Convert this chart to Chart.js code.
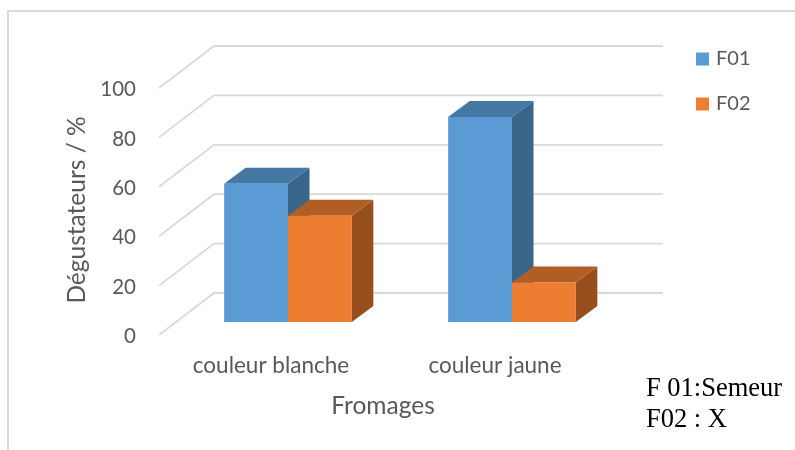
<!DOCTYPE html>
<html>
<head>
<meta charset="utf-8">
<title>Fromages</title>
<script src="https://cdn.jsdelivr.net/npm/chart.js@4"></script>
<style>
  html, body { margin: 0; padding: 0; background: #fff; }
  #wrap { position: relative; width: 795px; height: 450px; overflow: hidden; }
  #frame { position: absolute; left: 7px; top: 10px; width: 800px; height: 460px; border: 2px solid #d9d9d9; box-sizing: border-box; }
  #chart { position: absolute; left: 0; top: 0; }
  #note { position: absolute; left: 646px; top: 372px; font: 26.5px/31px "Liberation Serif", serif; color: #000; white-space: nowrap; }
</style>
</head>
<body>
<div id="wrap">
  <div id="frame"></div>
  <canvas id="chart" width="795" height="450"></canvas>
  <div id="note">F 01:Semeur<br>F02 : X</div>
</div>
<script>
(function() {
  'use strict';

  var categories = ['couleur blanche', 'couleur jaune'];
  var f01Values = [56, 83];
  var f02Values = [43, 16];
  var tickValues = [0, 20, 40, 60, 80, 100];
  var yTitle = 'Dégustateurs / %';
  var xTitle = 'Fromages';

  var textColor = '#595959';
  var gridColor = '#d9d9d9';
  var fontName = 'Lato, sans-serif';
  var depth = { x: 21.5, y: 16 };
  var wall = { x: 38, y: 29, right: 663, sideX: 55, sideY: 42 };
  var faces = [
    { top: '#4577a3', side: '#396589' },
    { top: '#b15e24', side: '#964e1d' }
  ];

  function fillShape(ctx, color, pts) {
    ctx.fillStyle = color;
    ctx.beginPath();
    ctx.moveTo(pts[0][0], pts[0][1]);
    for (var i = 1; i < pts.length; i++) ctx.lineTo(pts[i][0], pts[i][1]);
    ctx.closePath();
    ctx.fill();
  }

  // back wall and left side lines of the 3d box
  var wallPlugin = {
    id: 'wall',
    beforeDatasetsDraw: function(chart) {
      var ctx = chart.ctx;
      var yScale = chart.scales.y;
      var backLeft = chart.chartArea.left + wall.x;
      ctx.save();
      ctx.strokeStyle = gridColor;
      ctx.lineWidth = 1.8;
      tickValues.forEach(function(v) {
        var y = yScale.getPixelForValue(v) - wall.y;
        ctx.beginPath();
        ctx.moveTo(backLeft - wall.sideX, y + wall.sideY);
        ctx.lineTo(backLeft, y);
        ctx.lineTo(wall.right, y);
        ctx.stroke();
      });
      ctx.restore();
    }
  };

  // top and side faces, the front face is the normal bar
  var depthPlugin = {
    id: 'depth',
    beforeDatasetsDraw: function(chart) {
      var ctx = chart.ctx;
      chart.data.datasets.forEach(function(ds, di) {
        chart.getDatasetMeta(di).data.forEach(function(bar) {
          var l = bar.x - bar.width / 2;
          var r = bar.x + bar.width / 2;
          fillShape(ctx, faces[di].side, [[r, bar.y], [r + depth.x, bar.y - depth.y], [r + depth.x, bar.base - depth.y], [r, bar.base]]);
          fillShape(ctx, faces[di].top, [[l, bar.y], [l + depth.x, bar.y - depth.y], [r + depth.x, bar.y - depth.y], [r, bar.y]]);
        });
      });
    }
  };

  var titlePlugin = {
    id: 'axisTitles',
    afterDraw: function(chart) {
      var ctx = chart.ctx;
      ctx.save();
      ctx.fillStyle = textColor;
      ctx.font = '24.5px ' + fontName;
      ctx.textAlign = 'center';
      ctx.textBaseline = 'middle';
      ctx.fillText(xTitle, 383, 406);
      ctx.translate(77, 210);
      ctx.rotate(-Math.PI / 2);
      ctx.fillText(yTitle, 0, 0);
      ctx.restore();
    }
  };

  var legendPlugin = {
    id: 'legendPlace',
    afterLayout: function(chart) {
      var legend = chart.legend;
      legend.left = 674;
      legend.right = 790;
      legend.top = 24;
      legend.bottom = 300;
    }
  };

  // small box plus a thick stroke, keeps the text close to the square
  function legendLabels(chart) {
    var items = Chart.defaults.plugins.legend.labels.generateLabels(chart);
    items.forEach(function(item) {
      item.lineWidth = 6;
      item.strokeStyle = item.fillStyle;
    });
    return items;
  }

  new Chart(document.getElementById('chart'), {
    type: 'bar',
    data: {
      labels: categories,
      datasets: [
        { label: 'F01', data: f01Values, backgroundColor: '#5b9bd5', borderWidth: 0 },
        { label: 'F02', data: f02Values, backgroundColor: '#ed7d31', borderWidth: 0 }
      ]
    },
    plugins: [wallPlugin, depthPlugin, titlePlugin, legendPlugin],
    options: {
      responsive: false,
      animation: false,
      layout: { padding: { left: 0, top: 75, right: 171, bottom: 0 } },
      datasets: { bar: { categoryPercentage: 0.57, barPercentage: 1 } },
      plugins: {
        tooltip: { enabled: false },
        legend: {
          position: 'chartArea',
          align: 'start',
          labels: { boxWidth: 7, boxHeight: 7, padding: 25, color: textColor, generateLabels: legendLabels, font: { family: fontName, size: 20 } }
        }
      },
      scales: {
        x: {
          grid: { display: false },
          border: { display: false },
          afterFit: function(scale) { scale.height = 128; },
          ticks: { color: textColor, padding: 22.5, labelOffset: -17, maxRotation: 0, font: { family: fontName, size: 22.5 } }
        },
        y: {
          min: 0,
          max: 100,
          grid: { display: false },
          border: { display: false },
          afterFit: function(scale) { scale.width = 176; },
          ticks: { stepSize: 20, color: textColor, padding: 32, labelOffset: 14.5, font: { family: fontName, size: 20.5 } }
        }
      }
    }
  });
})();
</script>
</body>
</html>
